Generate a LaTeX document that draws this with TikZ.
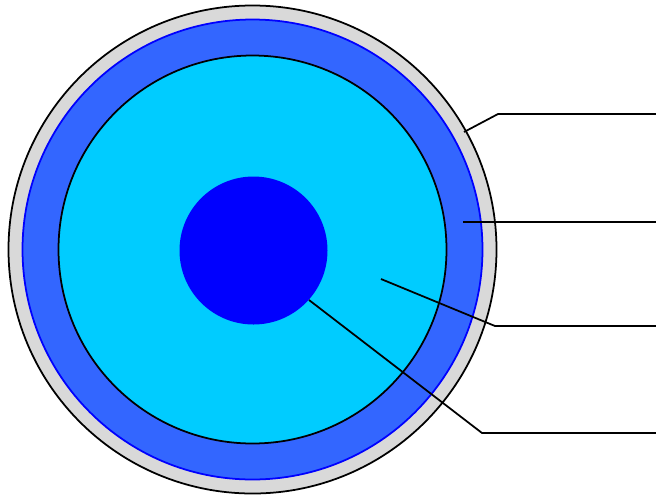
\documentclass[tikz,border=0pt]{standalone}
\usepackage{xcolor}
\usepackage{tikz}
\definecolor{jacketgray}{RGB}{217,217,217}
\definecolor{coatblue}{RGB}{51,102,255}
\definecolor{cladcyan}{RGB}{0,204,255}
\definecolor{coreblue}{RGB}{0,0,255}

\begin{document}
\begin{tikzpicture}[x=0.02cm,y=-0.02cm,line width=1pt]
\useasboundingbox (0,0) rectangle (656,495);
\coordinate (o) at (252.5,249.5);
\draw[fill=jacketgray](o)circle[radius=244];
\draw[fill=coatblue,draw=coreblue](o)circle[radius=230];
\draw[fill=cladcyan](o)circle[radius=194];
\fill[coreblue](253.5,250.5)circle[radius=74];
% leaders
\coordinate (j) at (464,132);
\coordinate (c) at (463,222);
\coordinate (d) at (381,279);
\coordinate (k) at (309,300);
\draw(j)--(498,114)--(656,114)
(c)--(656,222)
(d)--(495,326)--(656,326)
(k)--(482,433)--(656,433);
\end{tikzpicture}
\end{document}
